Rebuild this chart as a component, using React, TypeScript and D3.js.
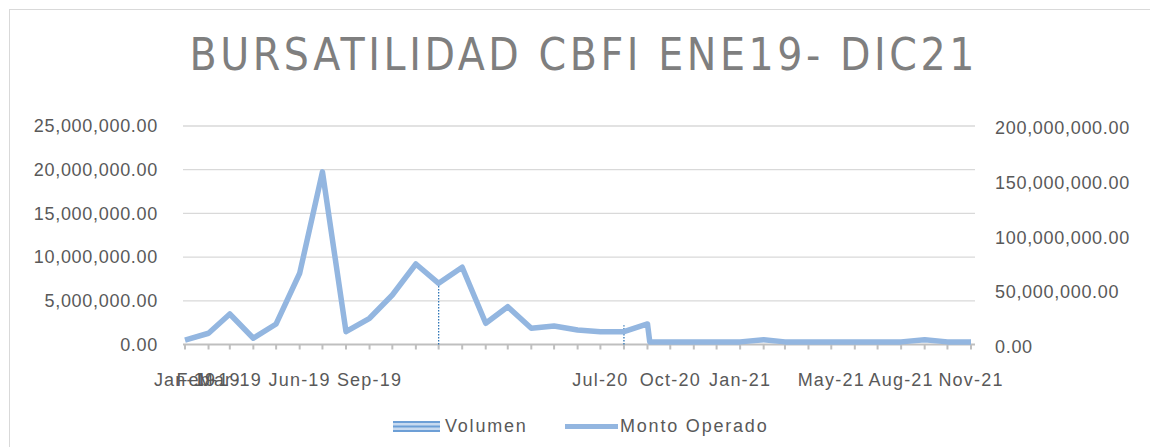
import React from "react";
import * as d3 from "d3";

const TITLE = "BURSATILIDAD CBFI ENE19- DIC21";

// Monto Operado (right axis), monthly
const montoDates = [
  "2019-01-01", "2019-02-01", "2019-03-01", "2019-04-01", "2019-05-01", "2019-06-01",
  "2019-07-01", "2019-08-01", "2019-09-01", "2019-10-01", "2019-11-01", "2019-12-01",
  "2020-01-01", "2020-02-01", "2020-03-01", "2020-04-01", "2020-05-01", "2020-06-01",
  "2020-07-01", "2020-08-01", "2020-09-01", "2020-09-04", "2020-10-01", "2020-11-01",
  "2020-12-01", "2021-01-01", "2021-02-01", "2021-03-01", "2021-04-01", "2021-05-01",
  "2021-06-01", "2021-07-01", "2021-08-01", "2021-09-01", "2021-10-01", "2021-11-01",
];
const montoValues = [
  4.1e6, 10.3e6, 27.9e6, 5.7e6, 18.8e6, 65.2e6,
  158e6, 11.7e6, 24e6, 45.3e6, 73.7e6, 56e6,
  70.7e6, 19.4e6, 34.6e6, 14.8e6, 16.9e6, 13.3e6,
  11.7e6, 11.7e6, 18.8e6, 2.4e6, 2.4e6, 2.4e6,
  2.4e6, 2.4e6, 4.4e6, 2.4e6, 2.4e6, 2.4e6,
  2.4e6, 2.4e6, 2.4e6, 4.4e6, 2.4e6, 2.4e6,
];

// Volumen (left axis), visible columns
const volumenDates = ["2019-12-01", "2020-08-01"];
const volumenValues = [6.8e6, 2.2e6];

const leftTicks = [0, 5e6, 10e6, 15e6, 20e6, 25e6];
const rightTicks = [0, 50e6, 100e6, 150e6, 200e6];

const xLabelDates = [
  "2019-01-01", "2019-02-01", "2019-03-01", "2019-06-01", "2019-09-01",
  "2020-07-01", "2020-10-01", "2021-01-01", "2021-05-01", "2021-08-01", "2021-11-01",
];
const xLabelTexts = [
  "Jan-19", "Feb-19", "Mar-19", "Jun-19", "Sep-19",
  "Jul-20", "Oct-20", "Jan-21", "May-21", "Aug-21", "Nov-21",
];

const legendNames = ["Volumen", "Monto Operado"];

const parse = d3.timeParse("%Y-%m-%d");

export default function App() {
  const W = 1150, H = 447;
  const x = d3.scaleTime()
    .domain([parse("2019-01-01")!, parse("2021-11-01")!])
    .range([185, 971]);
  const yL = d3.scaleLinear().domain([0, 25e6]).range([344.5, 126]);
  const yR = d3.scaleLinear().domain([0, 200e6]).range([344.5, 126]);
  const fmt = d3.format(",.2f");

  const montoData = montoDates.map((d, i) => ({ date: parse(d)!, v: montoValues[i] }));
  const line = d3.line<{ date: Date; v: number }>()
    .x((d) => x(d.date))
    .y((d) => yR(d.v));

  const months = d3.timeMonth.range(parse("2019-01-01")!, d3.timeDay.offset(parse("2021-11-01")!, 1));

  const font = "'Liberation Sans', Arial, sans-serif";
  const titleFont = "'DejaVu Sans Condensed', 'Liberation Sans Narrow', 'Liberation Sans', sans-serif";
  const textColor = "#595959";

  return (
    <div style={{ position: "absolute", left: 0, top: 0, width: W, height: H, background: "#fff" }}>
      <svg width={W} height={H} style={{ display: "block" }}>
        <rect x={9.5} y={9.5} width={W} height={H} fill="#fff" stroke="#d9d9d9" strokeWidth={1} />
        <text
          x={582}
          y={70}
          textAnchor="middle"
          fontFamily={titleFont}
          fontStretch="condensed"
          fontSize={44}
          fill="#7f7f7f"
          textLength={785}
          lengthAdjust="spacing"
        >
          {TITLE}
        </text>

        {/* gridlines */}
        {leftTicks.slice(1).map((t) => (
          <line key={"g" + t} x1={183} x2={975} y1={yL(t)} y2={yL(t)} stroke="#d9d9d9" strokeWidth={1.3} />
        ))}

        {/* left axis labels */}
        {leftTicks.map((t) => (
          <text key={"l" + t} x={158} y={yL(t)} dy="0.35em" textAnchor="end" fontFamily={font}
            fontSize={18} letterSpacing={0.7} fill={textColor}>
            {fmt(t)}
          </text>
        ))}
        {/* right axis labels */}
        {rightTicks.map((t) => (
          <text key={"r" + t} x={995} y={yR(t) + 2} dy="0.35em" textAnchor="start" fontFamily={font}
            fontSize={18} letterSpacing={0.7} fill={textColor}>
            {fmt(t)}
          </text>
        ))}

        {/* x axis */}
        <line x1={183} x2={975} y1={344.5} y2={344.5} stroke="#bfbfbf" strokeWidth={2} />
        {months.map((m) => (
          <line key={"t" + +m} x1={x(m)} x2={x(m)} y1={344.5} y2={349.5} stroke="#bfbfbf" strokeWidth={2} />
        ))}
        {xLabelDates.map((d, i) => (
          <text key={"x" + d} x={x(parse(d)!)} y={380} dy="0.35em" textAnchor="middle" fontFamily={font}
            fontSize={18} letterSpacing={1.2} fill={textColor}>
            {xLabelTexts[i]}
          </text>
        ))}

        {/* Volumen columns */}
        {volumenDates.map((d, i) => (
          <line key={"v" + d} x1={x(parse(d)!)} x2={x(parse(d)!)} y1={yL(0)} y2={yL(volumenValues[i])}
            stroke="#2e75b6" strokeWidth={1.3} strokeDasharray="1.5,1.5" />
        ))}

        {/* Monto Operado line */}
        <path d={line(montoData) || ""} fill="none" stroke="#93b6e0" strokeWidth={5.5} strokeLinejoin="round" />

        {/* legend */}
        <g>
          <rect x={393} y={421} width={47} height={11} fill="#c8daf0" />
          {[422, 426.5, 431].map((yy) => (
            <line key={"lg" + yy} x1={393} x2={440} y1={yy} y2={yy} stroke="#6d9fd6" strokeWidth={1.8} />
          ))}
          <text x={445} y={426} dy="0.35em" fontFamily={font} fontSize={18} letterSpacing={1.8} fill={textColor}>
            {legendNames[0]}
          </text>
          <line x1={565} x2={618} y1={426.5} y2={426.5} stroke="#93b6e0" strokeWidth={5} />
          <text x={620} y={426} dy="0.35em" fontFamily={font} fontSize={18} letterSpacing={1.8} fill={textColor}>
            {legendNames[1]}
          </text>
        </g>
      </svg>
    </div>
  );
}
